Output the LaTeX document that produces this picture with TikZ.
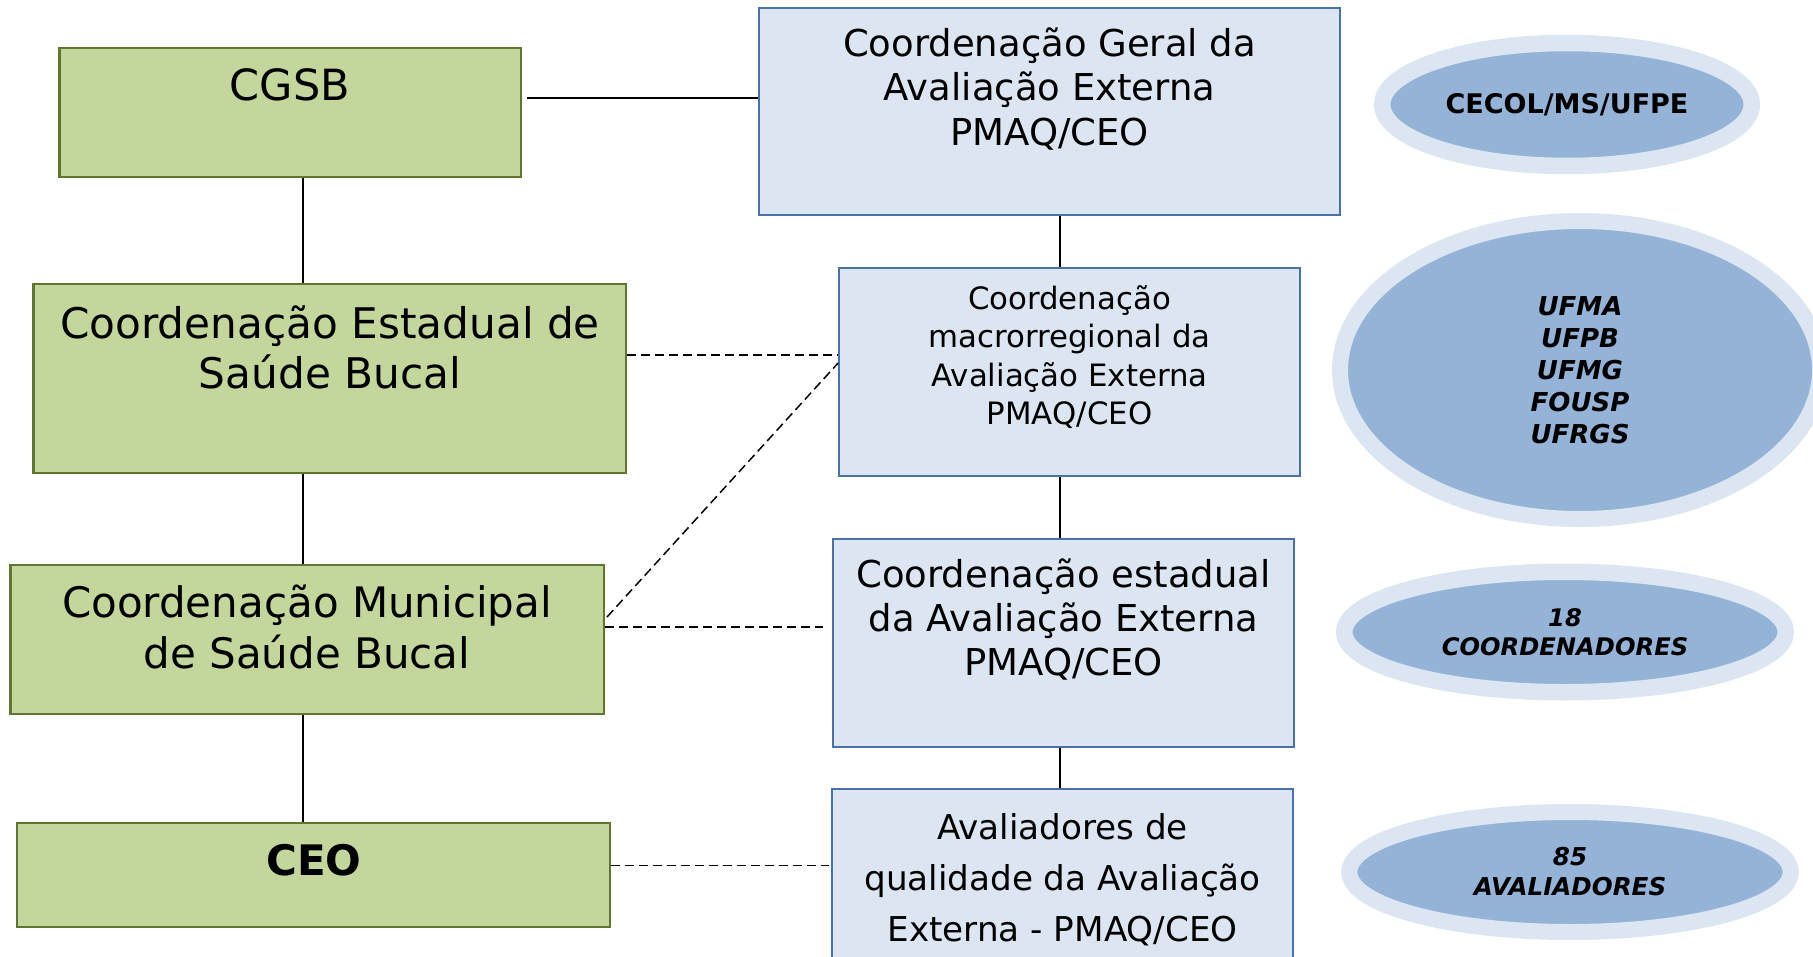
\documentclass[tikz,border=0pt]{standalone}
\usepackage{fontspec}
\setmainfont{DejaVu Sans}
\usetikzlibrary{shapes.geometric,fit}
\definecolor{gfill}{HTML}{C3D69B}
\definecolor{gline}{HTML}{5F7530}
\definecolor{bfill}{HTML}{DCE6F2}
\definecolor{bline}{HTML}{4A72A8}
\definecolor{einner}{HTML}{95B3D7}
\definecolor{eouter}{HTML}{DCE6F2}
\begin{document}
\begin{tikzpicture}[x=0.5pt,y=-0.5pt,
  gbox/.style={draw=gline, fill=gfill, line width=1.1pt, inner sep=0pt},
  bbox/.style={draw=bline, fill=bfill, line width=0.9pt, inner sep=0pt},
  lbl/.style={anchor=north, align=center, inner sep=0pt},
  oval/.style={ellipse, draw=eouter, fill=einner, inner sep=0pt, align=center},
  conn/.style={line width=0.8pt},
  dconn/.style={line width=0.75pt, dash pattern=on 4.6pt off 2.4pt}]
\useasboundingbox (0,0) rectangle (1813,957);
\fill[white] (0,0) rectangle (1813,957);

% green boxes
\node[gbox, fit={(59.5,47.7) (521,176.7)}] (b1) {};
\node[gbox, fit={(33.5,284) (626,472.7)}] (b2) {};
\node[gbox, fit={(10.4,565.3) (604,714)}] (b3) {};
\node[gbox, fit={(17.3,823) (609.6,927)}] (b4) {};
% blue boxes
\node[bbox, fit={(758.7,8.3) (1340,215)}] (b5) {};
\node[bbox, fit={(839,267.7) (1300,476)}] (b6) {};
\node[bbox, fit={(833,538.7) (1294,747.3)}] (b7) {};
\node[bbox, fit={(832,788.7) (1293,1000)}] (b8) {};

% labels
\node[lbl, font=\fontsize{21.5}{25}\selectfont] (t1) at (290,68.5) {CGSB};
\node[lbl, font=\fontsize{21.1}{25}\selectfont] (t2) at (330,305) {Coordenação Estadual de\\Saúde Bucal};
\node[lbl, font=\fontsize{21}{25.5}\selectfont] (t3) at (307,584) {Coordenação Municipal\\de Saúde Bucal};
\node[lbl, font=\bfseries\fontsize{21}{25}\selectfont] (t4) at (314,844.2) {CEO};
\node[lbl, font=\fontsize{18.5}{22.25}\selectfont] (t5) at (1049.5,27) {Coordenação Geral da\\Avaliação Externa\\PMAQ/CEO};
\node[lbl, font=\fontsize{15.4}{19.2}\selectfont] (t6) at (1069.5,285) {Coordenação\\macrorregional da\\Avaliação Externa\\PMAQ/CEO};
\node[lbl, font=\fontsize{18.5}{22.2}\selectfont] (t7) at (1063.5,558) {Coordenação estadual\\da Avaliação Externa\\PMAQ/CEO};
\node[lbl, font=\fontsize{17.1}{25.5}\selectfont] (t8) at (1062.5,813) {Avaliadores de\\qualidade da Avaliação\\Externa - PMAQ/CEO};

% ellipses
\node[oval, line width=8.25pt, minimum width=184.75pt, minimum height=61.5pt,
  font=\bfseries\fontsize{13.5}{16}\selectfont] (eA) at (1567,104.5) {CECOL/MS/UFPE};
\node[oval, line width=8pt, minimum width=240pt, minimum height=149pt,
  font=\bfseries\itshape\fontsize{13}{16}\selectfont] (eB) at (1580,370) {UFMA\\UFPB\\UFMG\\FOUSP\\UFRGS};
\node[oval, line width=8.25pt, minimum width=220.75pt, minimum height=60.25pt,
  font=\bfseries\itshape\fontsize{12.1}{14.5}\selectfont] (eC) at (1565,632) {18\\COORDENADORES};
\node[oval, line width=8pt, minimum width=220.75pt, minimum height=60pt,
  font=\bfseries\itshape\fontsize{12.3}{15}\selectfont] (eD) at (1570,872) {85\\AVALIADORES};

% solid connectors
\coordinate (vx) at (303,0);
\draw[conn] (b1.south -| vx) -- (b2.north -| vx);
\draw[conn] (b2.south -| vx) -- (b3.north -| vx);
\draw[conn] (b3.south -| vx) -- (b4.north -| vx);
\coordinate (h1) at (527,98.3);
\draw[conn] (h1) -- (b5.west |- h1);
\coordinate (bx) at (1060,0);
\draw[conn] (b5.south -| bx) -- (b6.north -| bx);
\draw[conn] (b6.south -| bx) -- (b7.north -| bx);
\draw[conn] (b7.south -| bx) -- (b8.north -| bx);

% dashed connectors
\coordinate (dy1) at (0,355);
\draw[dconn] (b2.east |- dy1) -- (b6.west |- dy1);
\coordinate (dga) at (607,617);
\coordinate (dgy) at (0,363);
\draw[dconn] (dga) -- (b6.west |- dgy);
\coordinate (dy3) at (0,627);
\coordinate (e3) at (823,627);
\draw[dconn] (b3.east |- dy3) -- (e3);
\coordinate (dy4) at (0,865.7);
\coordinate (e4) at (829,865.7);
\draw[dconn] (b4.east |- dy4) -- (e4);
\end{tikzpicture}
\end{document}
